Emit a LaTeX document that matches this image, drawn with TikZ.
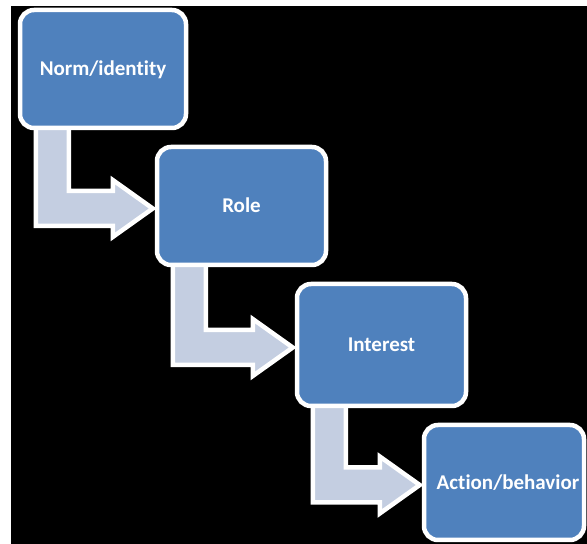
\documentclass[tikz,border=0pt]{standalone}
\usepackage{fontspec}
\setmainfont{Carlito}[RawFeature=-liga]
\usetikzlibrary{calc}
\pgfdeclarelayer{canvas}
\pgfdeclarelayer{back}
\pgfsetlayers{canvas,back,main}
\definecolor{boxblue}{RGB}{79,129,189}
\definecolor{arrowfill}{RGB}{196,206,225}
\tikzset{
  stagebox/.style={draw=white, line width=4.5pt, fill=boxblue, rounded corners=14pt,
    inner sep=0pt, text=white, font=\fontsize{21}{24}\selectfont\bfseries,
    text height=13.5pt, text depth=0pt, align=center},
  bentarrow/.style={draw=white, line width=4.5pt, fill=arrowfill, line join=miter}
}
\newcommand\bentarr[2]{%
  \path[bentarrow] let \p1=(#1.south west), \p2=($(#2.west)+(-2pt,-2.5pt)$) in
    (\x1+18pt,\y1+8pt) -- (\x1+51pt,\y1+8pt) -- (\x1+51pt,\y2+17.5pt)
    -- (\x2-40pt,\y2+17.5pt) -- (\x2-40pt,\y2+28.5pt) -- (\x2,\y2)
    -- (\x2-40pt,\y2-28.5pt) -- (\x2-40pt,\y2-17.5pt) -- (\x1+18pt,\y2-17.5pt) -- cycle;}
\begin{document}
\begin{tikzpicture}[x=1pt,y=1pt]
  \useasboundingbox (0,0) rectangle (587,544);
  \begin{pgfonlayer}{canvas}
    \fill[white] (0,0) rectangle (587,544);
    \fill[black] (11,0) rectangle (587,538);
  \end{pgfonlayer}
  \node[stagebox, minimum width=166pt, minimum height=118pt] (n1) at (103,475) {Norm/identity};
  \node[stagebox, minimum width=169pt, minimum height=118pt] (n2) at (241.5,338) {Role};
  \node[stagebox, minimum width=169pt, minimum height=122pt] (n3) at (381.5,199) {Interest};
  \node[stagebox, minimum width=160pt, minimum height=115pt] (n4) at (504,61.5) {\hspace*{8pt}Action/behavior\vphantom{A}\raisebox{0pt}{}};
  \begin{pgfonlayer}{back}
    \bentarr{n1}{n2}
    \bentarr{n2}{n3}
    \bentarr{n3}{n4}
  \end{pgfonlayer}
\end{tikzpicture}
\end{document}
